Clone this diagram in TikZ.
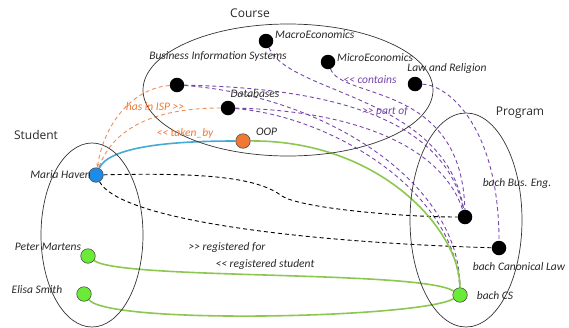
\documentclass[tikz,border=0pt]{standalone}
\usepackage{fontspec}
\setmainfont{Carlito}[Ligatures=TeXOff]
\newfontfamily\titlefont{Open Sans}
\usetikzlibrary{arrows.meta}
\pgfdeclarelayer{background}
\pgfsetlayers{background,main}

\definecolor{dotblue}{RGB}{30,140,230}
\definecolor{lineblue}{RGB}{70,170,215}
\definecolor{dotorange}{RGB}{240,120,50}
\definecolor{lineorange}{RGB}{240,140,90}
\definecolor{dotgreen}{RGB}{105,235,55}
\definecolor{linegreen}{RGB}{140,200,80}
\definecolor{purp}{RGB}{120,70,170}
\definecolor{txt}{RGB}{40,40,40}

\tikzset{
  dot/.style={circle,inner sep=0pt,minimum size=14.5pt},
  blackdot/.style={dot,fill=black},
  greendot/.style={dot,fill=dotgreen,draw=black!70,line width=0.6pt},
  bluedot/.style={dot,fill=dotblue,draw=black!70,line width=0.6pt},
  orangedot/.style={dot,fill=dotorange,draw=black!70,line width=0.6pt},
  lbl/.style={font=\itshape\fontsize{11.5}{13}\selectfont,text=txt,inner sep=0pt},
  title/.style={font=\titlefont\fontsize{12}{14}\selectfont,text=txt,inner sep=0pt},
  group/.style={draw=black!80,line width=0.7pt},
  partof/.style={draw=purp,dash pattern=on 4pt off 3pt,line width=0.9pt},
  regline/.style={draw=linegreen,line width=1.6pt},
  takenline/.style={draw=lineblue,line width=1.6pt},
  ispline/.style={draw=lineorange,dash pattern=on 4pt off 3pt,line width=0.9pt,-{Stealth[length=4pt,width=3pt]}},
  progline/.style={draw=black,dash pattern=on 4pt off 3pt,line width=0.9pt},
  purplbl/.style={lbl,text=purp},
  orangelbl/.style={lbl,text=dotorange},
}

\begin{document}
\begin{tikzpicture}[x=1pt,y=-1pt]
\useasboundingbox (0,0) rectangle (569,327);

% group outlines
\draw[group] (288,90) ellipse [x radius=145, y radius=66];
\draw[group] (92,235) ellipse [x radius=51, y radius=92];
\draw[group] (466,220) ellipse [x radius=56, y radius=107];

% group titles
\node[title] (tcourse) at (250,13) {Course};
\node[title] (tstudent) at (36,135) {Student};
\node[title] (tprogram) at (520,113) {Program};

% courses
\node[blackdot] (macro) at (266,41) {};
\node[blackdot] (bis) at (177,85) {};
\node[blackdot] (micro) at (328,62) {};
\node[blackdot] (law) at (415,84) {};
\node[blackdot] (db) at (228,108) {};
\node[orangedot] (oop) at (243,141) {};

% students
\node[bluedot] (maria) at (96,175) {};
\node[greendot] (peter) at (88,256) {};
\node[greendot] (elisa) at (84,294) {};

% programs
\node[blackdot] (buseng) at (465,217) {};
\node[blackdot] (canon) at (499,248) {};
\node[greendot] (cs) at (460,295) {};

% node labels
\node[lbl,anchor=west] (lmacro) at (275,35) {MacroEconomics};
\node[lbl] (lbis) at (218,56) {Business Information Systems};
\node[lbl,anchor=west] (lmicro) at (337,58) {MicroEconomics};
\node[lbl] (llaw) at (447,68) {Law and Religion};
\node[lbl] (ldb) at (255,94) {Databases};
\node[lbl,anchor=west] (loop) at (256,132) {OOP};
\node[lbl,anchor=east] (lmaria) at (91,175) {Maria Haven};
\node[lbl] (lpeter) at (48,247) {Peter Martens};
\node[lbl] (lelisa) at (37,290) {Elisa Smith};
\node[lbl] (lbuseng) at (517,183) {bach Bus. Eng.};
\node[lbl] (lcanon) at (519,267) {bach Canonical Law};
\node[lbl] (lcs) at (495,296) {bach CS};

% connector labels
\node[purplbl] (lcontains) at (370,80) {<< contains};
\node[purplbl] (lpartof) at (385,111) {>> part of};
\node[orangelbl] (lisp) at (155,107) {has in ISP >>};
\node[orangelbl] (ltaken) at (185,133) {<< taken\_by};
\node[lbl] (lregfor) at (227,247) {>> registered for};
\node[lbl] (lregstu) at (265,264) {<< registered student};

\begin{pgfonlayer}{background}
  % courses that are part of programs
  \draw[partof] (macro) .. controls (290,95) and (445,95) .. (buseng);
  \draw[partof] (micro) .. controls (342,100) and (462,82) .. (buseng);
  \draw[partof] (bis) .. controls (330,88) and (445,118) .. (buseng);
  \draw[partof] (db) .. controls (340,110) and (440,140) .. (buseng);
  \draw[partof] (bis) .. controls (320,95) and (460,180) .. (cs);
  \draw[partof] (db) .. controls (330,116) and (455,190) .. (cs);
  \draw[partof] (law) .. controls (450,85) and (499,130) .. (canon);

  % ISP courses of the student
  \draw[ispline] (bis) .. controls (135,88) and (105,120) .. (maria);
  \draw[ispline] (db) .. controls (160,108) and (115,125) .. (maria);

  % student takes course
  \draw[takenline] (maria) .. controls (110,145) and (180,141) .. (oop);

  % student registered in program
  \draw[progline] (maria) .. controls (220,172) and (260,180) .. (282,196)
                   .. controls (300,208) and (400,217) .. (buseng);
  \draw[progline] (maria) .. controls (120,220) and (300,242) .. (canon);

  % registered students and course of bach CS
  \draw[regline] (oop) .. controls (380,140) and (460,230) .. (cs);
  \draw[regline] (peter) .. controls (120,280) and (420,270) .. (cs);
  \draw[regline] (elisa) .. controls (110,325) and (420,318) .. (cs);
\end{pgfonlayer}
\end{tikzpicture}
\end{document}
